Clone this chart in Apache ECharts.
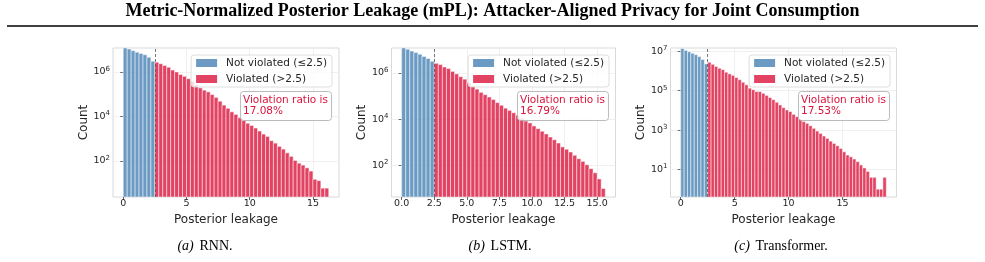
<!DOCTYPE html>
<html>
<head>
<meta charset="utf-8">
<script src="https://cdn.jsdelivr.net/npm/echarts@6/dist/echarts.min.js"></script>
<style>html,body{margin:0;padding:0;background:#fff}#chart{width:985px;height:262px}</style>
</head>
<body>
<div id="chart"></div>
<script>
// histogram bins (width 0.3125), threshold at 2.5
var binWidth = 0.3125;
var threshold = 2.5;

var rnnNotViolated = [1.2e7, 1.05e7, 8.9e6, 7.6e6, 6.6e6, 5.8e6, 4.5e6, 3.0e6];
var rnnViolated = [2.7e6, 2.3e6, 1.9e6, 1.6e6, 1.2e6, 980000, 760000, 630000, 490000, 370000,
    260000, 190000, 150000, 126000, 95000, 71000, 48000, 32000, 23000, 16000,
    12300, 8700, 6500, 4900, 3900, 3000, 2200, 1600, 1260, 810,
    630, 450, 340, 230, 160, 105, 79, 65, 49, 35,
    15, 13, 6, 6];

var lstmNotViolated = [1.2e7, 1.07e7, 8.9e6, 7.6e6, 6.5e6, 5.2e6, 4.2e6, 3.2e6];
var lstmViolated = [2.6e6, 2.3e6, 1.8e6, 1.55e6, 1.17e6, 910000, 690000, 540000, 380000, 275000,
    200000, 145000, 115000, 91000, 71000, 52000, 40000, 30000, 24000, 19000,
    14800, 11200, 8300, 6900, 5100, 3900, 3000, 2300, 1700, 1290,
    930, 630, 500, 380, 275, 195, 150, 107, 72, 48,
    26, 10];

var transNotViolated = [1.38e7, 1.12e7, 9.5e6, 7.9e6, 6.8e6, 5.4e6, 3.9e6, 2.3e6];
var transViolated = [2.8e6, 2.2e6, 1.7e6, 1.4e6, 1.17e6, 870000, 720000, 600000, 470000, 360000,
    270000, 200000, 135000, 112000, 91000, 90000, 74000, 58000, 45000, 35000,
    26000, 19000, 13800, 10500, 8700, 6300, 4800, 3700, 2700, 2200,
    1660, 1230, 890, 680, 500, 380, 275, 210, 160, 117,
    79, 54, 44, 34, 25, 17, 12, 8, 4, 4,
    1, 1, 4];

var panelLabels = ['(a)', '(b)', '(c)'];
var panelNames = ['RNN.', 'LSTM.', 'Transformer.'];
var violationRatios = ['17.08%', '16.79%', '17.53%'];
var xTickValues = [[0, 5, 10, 15], [0, 2.5, 5, 7.5, 10, 12.5, 15], [0, 5, 10, 15]];
var yTickValues = [[1e2, 1e4, 1e6], [1e2, 1e4, 1e6], [1e1, 1e3, 1e5, 1e7]];

var nameNot = 'Not violated (\u22642.5)';
var nameViol = 'Violated (>2.5)';
var blue = 'rgba(70,130,180,0.8)';
var red = 'rgba(220,20,60,0.8)';
var ink = '#262626';

// layout of the three panels
var panels = [
    {left: 113, width: 226, xMin: -0.81, xMax: 17.06, yMin: 2.4, yMax: 1.17e7, capX: 205, legRight: 653, fmt: 0},
    {left: 391.5, width: 224, xMin: -0.78, xMax: 16.41, yMin: 4.3, yMax: 1.2e7, capX: 500, legRight: 376, fmt: 1},
    {left: 670.5, width: 226, xMin: -0.95, xMax: 20.01, yMin: 0.4, yMax: 1.48e7, capX: 781, legRight: 95, fmt: 0}
];
var dataSets = [
    [rnnNotViolated, rnnViolated],
    [lstmNotViolated, lstmViolated],
    [transNotViolated, transViolated]
];

function toBins(counts, start) {
    return counts.map(function (c, i) {
        return [start + i * binWidth, start + (i + 1) * binWidth, c];
    });
}

function renderBin(params, api) {
    var cs = params.coordSys;
    var p0 = api.coord([api.value(0), api.value(2)]);
    var p1 = api.coord([api.value(1), api.value(2)]);
    var bottom = cs.y + cs.height;
    var top = Math.max(p0[1], cs.y);
    return {
        type: 'rect',
        shape: {x: p0[0], y: top, width: p1[0] - p0[0], height: bottom - top},
        style: {fill: api.visual('color'), stroke: '#fff', lineWidth: 0.5}
    };
}

var grids = [], xAxes = [], yAxes = [], series = [], legends = [], titles = [];

titles.push({
    text: 'Metric-Normalized Posterior Leakage (mPL): Attacker-Aligned Privacy for Joint Consumption',
    left: 'center', top: 2, padding: 0,
    textStyle: {fontFamily: 'Liberation Serif', fontWeight: 'bold', fontSize: 18, color: '#000'}
});

panels.forEach(function (p, k) {
    grids.push({left: p.left, top: 48, width: p.width, height: 149, show: true,
        borderColor: '#cfcfcf', borderWidth: 0.8, backgroundColor: '#fff'});
    xAxes.push({
        type: 'value', gridIndex: k, min: p.xMin, max: p.xMax,
        name: 'Posterior leakage', nameLocation: 'middle', nameGap: 13,
        nameTextStyle: {fontSize: 12, color: ink},
        axisLine: {show: false},
        axisTick: {show: true, length: 3, customValues: xTickValues[k], lineStyle: {color: '#444', width: 0.8}},
        axisLabel: {customValues: xTickValues[k], fontSize: 9.5, color: ink, margin: 2,
            formatter: function (v) { return p.fmt ? v.toFixed(1) : String(v); }},
        splitLine: {show: true, lineStyle: {color: '#ececec', width: 0.8}}
    });
    yAxes.push({
        type: 'log', logBase: 10, gridIndex: k, min: p.yMin, max: p.yMax,
        name: 'Count', nameLocation: 'middle', nameGap: 18,
        nameTextStyle: {fontSize: 12, color: ink},
        axisLine: {show: false},
        axisTick: {show: true, length: 3, customValues: yTickValues[k], lineStyle: {color: '#444', width: 0.8}},
        axisLabel: {customValues: yTickValues[k], color: ink, margin: 3,
            formatter: function (v) { return '{b|10}{s|' + Math.round(Math.log10(v)) + '}'; },
            rich: {b: {fontSize: 9.5, color: ink}, s: {fontSize: 7, color: ink, padding: [0, 0, 6, 0]}}},
        splitLine: {show: true, lineStyle: {color: '#ececec', width: 0.8}}
    });
    series.push({
        type: 'custom', name: nameNot, xAxisIndex: k, yAxisIndex: k,
        itemStyle: {color: blue}, renderItem: renderBin, clip: true,
        encode: {x: [0, 1], y: 2}, data: toBins(dataSets[k][0], 0)
    });
    series.push({
        type: 'custom', name: nameViol, xAxisIndex: k, yAxisIndex: k,
        itemStyle: {color: red}, renderItem: renderBin, clip: true,
        encode: {x: [0, 1], y: 2}, data: toBins(dataSets[k][1], threshold),
        markLine: {silent: true, symbol: ['none', 'none'], label: {show: false},
            lineStyle: {type: [3, 2], color: '#555', width: 0.8},
            data: [{xAxis: threshold}]}
    });
    legends.push({
        data: [nameNot, nameViol], orient: 'vertical', right: p.legRight, top: 55,
        icon: 'rect', itemWidth: 21, itemHeight: 8, itemGap: 4,
        padding: [2, 5, 2, 5], backgroundColor: 'rgba(255,255,255,0.8)',
        borderColor: '#d6d6d6', borderWidth: 0.8, borderRadius: 3,
        selectedMode: false,
        textStyle: {fontSize: 10.5, color: ink, lineHeight: 12, padding: [0, 0, 0, 4]}
    });
    titles.push({
        text: 'Violation ratio is\n' + violationRatios[k],
        right: p.legRight, top: 91, padding: [3, 4, 3, 3],
        backgroundColor: 'rgba(255,255,255,0.85)', borderColor: '#aaaaaa', borderWidth: 0.8, borderRadius: 3,
        textStyle: {fontSize: 10.5, fontWeight: 'normal', color: '#dc143c', lineHeight: 11.7}
    });
    titles.push({
        text: '{i|' + panelLabels[k] + '} {r|' + panelNames[k] + '}', left: p.capX, top: 237, textAlign: 'center', padding: 0,
        textStyle: {fontWeight: 'normal', rich: {
            i: {fontFamily: 'Liberation Serif', fontStyle: 'italic', fontWeight: 'normal', fontSize: 14, color: '#000'},
            r: {fontFamily: 'Liberation Serif', fontStyle: 'normal', fontWeight: 'normal', fontSize: 14, color: '#000'}
        }}
    });
});

var chart = echarts.init(document.getElementById('chart'), null, {renderer: 'canvas'});
chart.setOption({
    animation: false,
    textStyle: {fontFamily: 'DejaVu Sans'},
    title: titles,
    legend: legends,
    grid: grids,
    xAxis: xAxes,
    yAxis: yAxes,
    series: series,
    graphic: [{type: 'line', shape: {x1: 7, y1: 26, x2: 978, y2: 26}, style: {stroke: '#000', lineWidth: 1.6}}]
});
</script>
</body>
</html>
